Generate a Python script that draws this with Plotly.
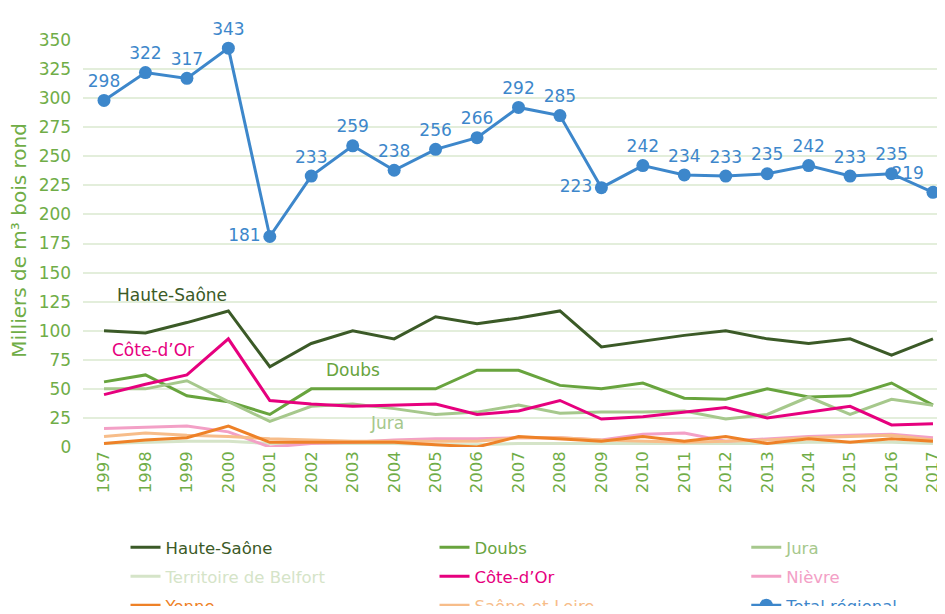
import plotly.graph_objects as go

years = list(range(1997, 2018))

total = [298, 322, 317, 343, 181, 233, 259, 238, 256, 266, 292, 285, 223, 242, 234, 233, 235, 242, 233, 235, 219]
haute_saone = [100, 98, 107, 117, 69, 89, 100, 93, 112, 106, 111, 117, 86, 91, 96, 100, 93, 89, 93, 79, 93]
doubs = [56, 62, 44, 39, 28, 50, 50, 50, 50, 66, 66, 53, 50, 55, 42, 41, 50, 43, 44, 55, 36]
jura = [50, 50, 57, 39, 22, 35, 37, 33, 28, 30, 36, 29, 30, 30, 31, 24, 28, 43, 28, 41, 36]
belfort = [3, 4, 5, 5, 3, 3, 3, 3, 2, 2, 3, 3, 3, 3, 3, 3, 3, 4, 4, 4, 3]
cote_dor = [45, 54, 62, 93, 40, 37, 35, 36, 37, 28, 31, 40, 24, 26, 30, 34, 25, 30, 35, 19, 20]
nievre = [16, 17, 18, 13, 0, 3, 4, 6, 7, 7, 8, 8, 6, 11, 12, 5, 7, 9, 10, 11, 8]
yonne = [3, 6, 8, 18, 4, 4, 4, 4, 2, 0, 9, 7, 5, 9, 5, 9, 3, 7, 4, 7, 5]
saone_loire = [9, 12, 10, 9, 7, 6, 5, 5, 5, 5, 8, 8, 6, 5, 4, 5, 6, 8, 9, 10, 6]

green = "#70ad47"
font = "DejaVu Sans"

# name, values, colour, legend, rank
series = [
    ("Territoire de Belfort", belfort, "#d5e4c8", "legend", 2),
    ("Haute-Saône", haute_saone, "#3b5a27", "legend", 1),
    ("Doubs", doubs, "#68a43e", "legend2", 1),
    ("Jura", jura, "#a6c88c", "legend3", 1),
    ("Nièvre", nievre, "#f3a0c6", "legend3", 2),
    ("Saône-et-Loire", saone_loire, "#f7bd8a", "legend2", 3),
    ("Yonne", yonne, "#ee8127", "legend", 3),
    ("Côte-d’Or", cote_dor, "#e6007e", "legend2", 2),
]

fig = go.Figure()
for name, vals, col, leg, rank in series:
    fig.add_trace(go.Scatter(
        x=years, y=vals, mode="lines",
        name=f"<span style='color:{col}'>{name}</span>",
        line=dict(color=col, width=3),
        legend=leg, legendrank=rank, legendgroup=name,
    ))

positions = ["top center"] * len(total)
positions[years.index(2001)] = "middle left"
positions[years.index(2009)] = "middle left"
positions[years.index(2017)] = "top left"  # keep the last label inside the page

fig.add_trace(go.Scatter(
    x=years, y=total, mode="lines+markers+text",
    name="<span style='color:#3d87cb'>Total régional</span>",
    line=dict(color="#3d87cb", width=3),
    marker=dict(size=13, color="#3d87cb"),
    text=[str(v) for v in total], textposition=positions,
    textfont=dict(color="#3d87cb", size=17, family=font),
    cliponaxis=False,
    legend="legend3", legendrank=3, legendgroup="total",
))

# inline series labels
labels = [
    ("Haute-Saône", 1998.64, 131, "#3b5a27"),
    ("Côte-d’Or", 1998.18, 83, "#e6007e"),
    ("Doubs", 2003.0, 66, "#68a43e"),
    ("Jura", 2003.83, 20.5, "#a6c88c"),
]
for txt, x, y, col in labels:
    fig.add_annotation(x=x, y=y, text=txt, showarrow=False,
                       font=dict(color=col, size=17, family=font))

fig.add_annotation(text="Milliers de m³ bois rond", textangle=-90, showarrow=False,
                   xref="paper", yref="paper", x=-0.075, y=0.509,
                   xanchor="center", yanchor="middle",
                   font=dict(color=green, size=20, family=font))

legend_style = dict(orientation="v", xref="container", yref="container",
                    yanchor="top", xanchor="left", y=0.127,
                    font=dict(size=16.5, family=font), tracegroupgap=4.5,
                    traceorder="grouped", bgcolor="rgba(0,0,0,0)")

fig.update_layout(
    width=929, height=598,
    margin=dict(l=75, r=0, t=32, b=159, autoexpand=False),
    plot_bgcolor="white", paper_bgcolor="white",
    font=dict(family=font, color=green),
    xaxis=dict(range=[1996.493, 2017.097], tickmode="array", tickvals=years,
               ticktext=[str(y) for y in years], tickangle=-90,
               ticklabeloverflow="allow",
               showgrid=False, zeroline=False, showline=False,
               tickfont=dict(size=16.5, color=green, family=font)),
    yaxis=dict(range=[0, 350], dtick=25, showgrid=True, gridcolor="#e3eedb",
               gridwidth=2, zeroline=False, showline=False,
               tickfont=dict(size=17, color=green, family=font), ticksuffix="  "),
    legend=dict(legend_style, x=0.1265),
    legend2=dict(legend_style, x=0.4591),
    legend3=dict(legend_style, x=0.7947),
)

fig.write_html("out.html")
